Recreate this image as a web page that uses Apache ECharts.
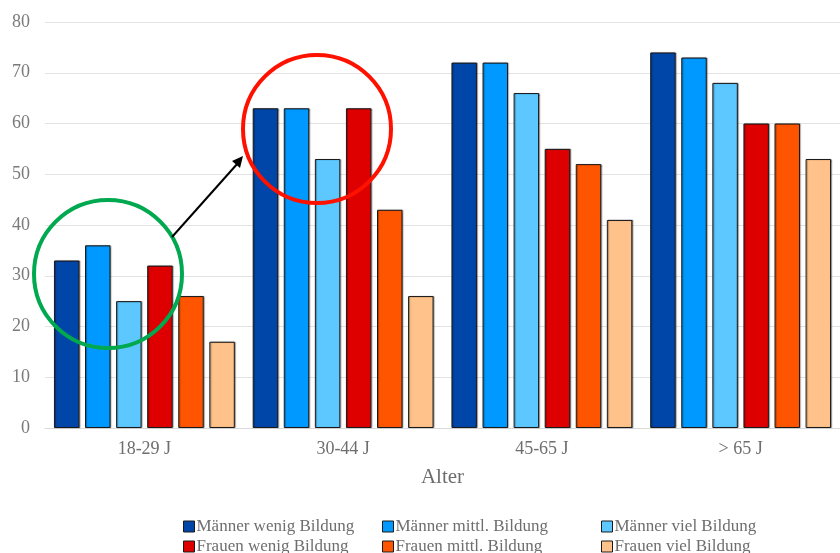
<!DOCTYPE html>
<html><head><meta charset="utf-8">
<script src="https://cdn.jsdelivr.net/npm/echarts@6/dist/echarts.min.js"></script>
<style>html,body{margin:0;padding:0;background:#fff}#c{width:840px;height:553px}</style>
</head><body><div id="c"></div>
<script>
var categories = ['18-29 J', '30-44 J', '45-65 J', '> 65 J'];
var seriesNames = ['Männer wenig Bildung', 'Männer mittl. Bildung', 'Männer viel Bildung',
                   'Frauen wenig Bildung', 'Frauen mittl. Bildung', 'Frauen viel Bildung'];
var maennerWenig = [33, 63, 72, 74];
var maennerMittl = [36, 63, 72, 73];
var maennerViel  = [25, 53, 66, 68];
var frauenWenig  = [32, 63, 55, 60];
var frauenMittl  = [26, 43, 52, 60];
var frauenViel   = [17, 26, 41, 53];
var colors = ['#0046A8', '#0099FF', '#5CC8FF', '#DE0000', '#FF5500', '#FFC28A'];
var values = [maennerWenig, maennerMittl, maennerViel, frauenWenig, frauenMittl, frauenViel];

var font = 'Liberation Serif, Times New Roman, serif';
var chart = echarts.init(document.getElementById('c'));
var series = values.map(function (v, i) {
  return {
    name: seriesNames[i], type: 'bar', data: v,
    barGap: '22%', barCategoryGap: '9%',
    itemStyle: { color: colors[i], borderColor: '#1a1a1a', borderWidth: 1,
                 shadowColor: 'rgba(0,0,0,0.35)', shadowOffsetX: 1, shadowOffsetY: 0, shadowBlur: 1 }
  };
});
var colLeft = [178, 377, 596];
var rowTop = [513, 533];
var legends = seriesNames.map(function (n, i) {
  return {
    left: colLeft[i % 3], top: rowTop[Math.floor(i / 3)], itemWidth: 11, itemHeight: 11,
    icon: 'rect', data: [n],
    itemStyle: { borderColor: '#1a1a1a', borderWidth: 1, shadowBlur: 0, shadowOffsetX: 0 },
    textStyle: { fontFamily: font, fontSize: 17, color: '#6e6e6e', padding: [0, 0, 0, -3] },
    selectedMode: false
  };
});
chart.setOption({
  animation: false,
  grid: { left: 45, top: 22, width: 804, bottom: 125 },
  xAxis: {
    type: 'category', data: categories,
    name: 'Alter', nameLocation: 'middle', nameGap: 39,
    nameTextStyle: { fontFamily: font, fontSize: 21, color: '#6e6e6e' },
    axisLine: { lineStyle: { color: '#d9d9d9' } },
    axisTick: { show: false },
    axisLabel: { fontFamily: font, fontSize: 18, color: '#6e6e6e', margin: 12 }
  },
  yAxis: {
    type: 'value', min: 0, max: 80, interval: 10,
    axisLine: { show: false }, axisTick: { show: false },
    axisLabel: { fontFamily: font, fontSize: 18, color: '#7a7a7a', margin: 15 },
    splitLine: { lineStyle: { color: '#e3e3e3', width: 1 } }
  },
  legend: legends,
  series: series,
  graphic: [
    { type: 'circle', shape: { cx: 108, cy: 274, r: 74 }, z: 100,
      style: { fill: 'none', stroke: '#00A84F', lineWidth: 4 } },
    { type: 'circle', shape: { cx: 317, cy: 129, r: 74 }, z: 100,
      style: { fill: 'none', stroke: '#FF1100', lineWidth: 4 } },
    { type: 'line', shape: { x1: 172, y1: 237, x2: 238, y2: 163 }, z: 100,
      style: { stroke: '#000', lineWidth: 2 } },
    { type: 'polygon', shape: { points: [[243, 156], [232, 161], [240, 168]] }, z: 100,
      style: { fill: '#000' } }
  ]
});
</script></body></html>
